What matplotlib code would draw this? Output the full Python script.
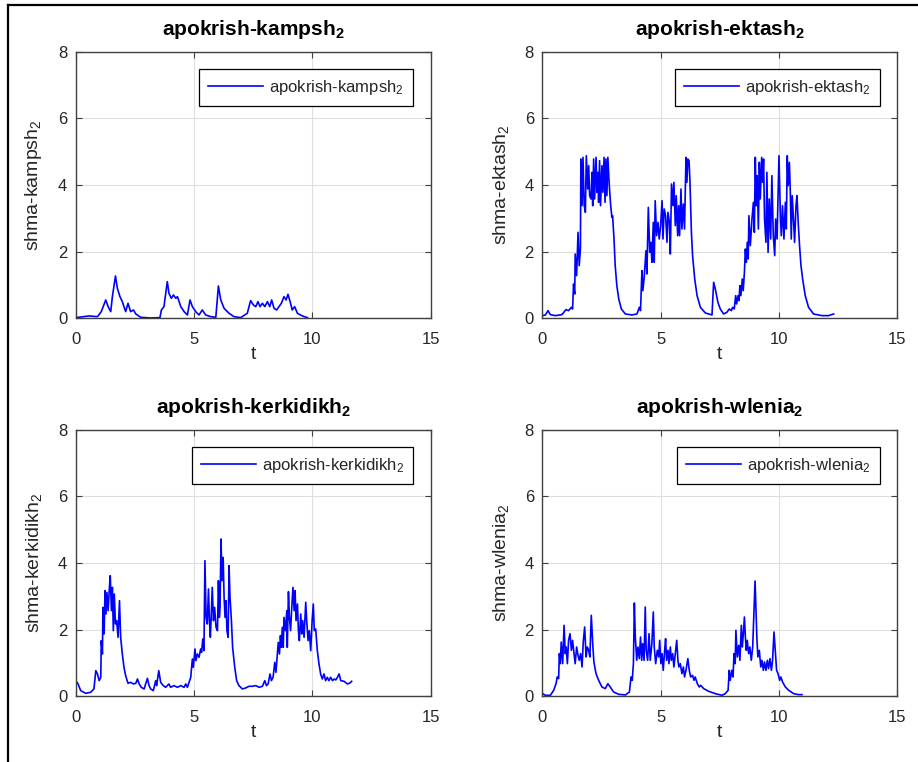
import matplotlib
matplotlib.use("Agg")
import matplotlib.pyplot as plt
from matplotlib.lines import Line2D

plt.rcParams['font.family'] = ['Liberation Sans', 'DejaVu Sans']
plt.rcParams['mathtext.fontset'] = 'custom'
plt.rcParams['mathtext.rm'] = 'Liberation Sans'
plt.rcParams['mathtext.it'] = 'Liberation Sans'
plt.rcParams['mathtext.bf'] = 'Liberation Sans:bold'

# ---- response of each member (time t, value) ----
t_kampsh = [0.00, 0.56, 0.92, 1.08, 1.27, 1.37, 1.48, 1.55, 1.68, 1.76, 1.87, 1.97,
            2.11, 2.21, 2.32, 2.44, 2.54, 2.75, 3.17, 3.56, 3.62, 3.73, 3.87, 3.94,
            4.04, 4.13, 4.23, 4.30, 4.44, 4.58, 4.72, 4.83, 4.93, 5.07, 5.21, 5.35,
            5.49, 5.70, 5.92, 6.03, 6.13, 6.27, 6.48, 6.69, 6.97, 7.25, 7.39, 7.51,
            7.61, 7.70, 7.79, 7.89, 7.99, 8.10, 8.20, 8.28, 8.38, 8.49, 8.59, 8.69,
            8.80, 8.89, 8.97, 9.06, 9.15, 9.25, 9.37, 9.58, 9.79]
y_kampsh = [0.02, 0.07, 0.05, 0.20, 0.55, 0.35, 0.20, 0.65, 1.27, 0.90, 0.65, 0.50,
            0.20, 0.45, 0.20, 0.25, 0.13, 0.03, 0.01, 0.02, 0.25, 0.35, 1.10, 0.75,
            0.60, 0.70, 0.60, 0.65, 0.35, 0.20, 0.10, 0.55, 0.35, 0.20, 0.10, 0.25,
            0.10, 0.05, 0.03, 0.97, 0.55, 0.30, 0.15, 0.05, 0.02, 0.15, 0.53, 0.40,
            0.35, 0.50, 0.35, 0.45, 0.35, 0.50, 0.35, 0.55, 0.30, 0.25, 0.35, 0.45,
            0.65, 0.55, 0.72, 0.50, 0.25, 0.35, 0.15, 0.07, 0.02]

t_ektash = [0.01, 0.13, 0.24, 0.34, 0.55, 0.83, 1.00, 1.11, 1.23, 1.28, 1.32, 1.37,
            1.39, 1.45, 1.51, 1.56, 1.61, 1.63, 1.68, 1.72, 1.77, 1.82, 1.86, 1.92,
            1.96, 2.00, 2.06, 2.10, 2.13, 2.17, 2.21, 2.27, 2.31, 2.35, 2.38, 2.42,
            2.46, 2.52, 2.56, 2.61, 2.65, 2.69, 2.73, 2.77, 2.83, 2.89, 2.94, 2.97,
            3.03, 3.08, 3.15, 3.23, 3.34, 3.51, 3.79, 4.00, 4.10, 4.15, 4.21, 4.25,
            4.31, 4.38, 4.42, 4.48, 4.54, 4.59, 4.63, 4.69, 4.73, 4.77, 4.83, 4.89,
            4.94, 5.00, 5.06, 5.10, 5.15, 5.21, 5.27, 5.31, 5.37, 5.41, 5.46, 5.52,
            5.56, 5.62, 5.66, 5.72, 5.76, 5.80, 5.86, 5.90, 5.96, 6.01, 6.07, 6.11,
            6.15, 6.20, 6.24, 6.30, 6.35, 6.44, 6.54, 6.68, 6.89, 7.17, 7.24, 7.31,
            7.42, 7.52, 7.66, 7.80, 7.90, 7.99, 8.04, 8.11, 8.17, 8.21, 8.27, 8.31,
            8.35, 8.39, 8.45, 8.49, 8.54, 8.58, 8.62, 8.66, 8.70, 8.73, 8.79, 8.86,
            8.92, 8.96, 9.00, 9.04, 9.08, 9.13, 9.17, 9.21, 9.27, 9.31, 9.35, 9.39,
            9.45, 9.49, 9.54, 9.59, 9.65, 9.70, 9.76, 9.82, 9.86, 9.92, 10.00, 10.06,
            10.10, 10.15, 10.21, 10.27, 10.31, 10.35, 10.39, 10.44, 10.48, 10.52, 10.56, 10.62,
            10.66, 10.72, 10.76, 10.82, 10.87, 10.93, 11.00, 11.11, 11.25, 11.46, 11.82, 12.10,
            12.31]
y_ektash = [0.08, 0.10, 0.23, 0.11, 0.08, 0.11, 0.26, 0.23, 0.33, 0.28, 1.03, 0.73,
            1.93, 1.28, 2.58, 1.58, 2.08, 4.78, 3.38, 4.83, 3.38, 3.18, 4.88, 3.88,
            4.58, 3.68, 3.58, 4.38, 3.38, 4.78, 3.58, 4.83, 3.78, 4.38, 3.48, 4.73,
            3.38, 4.58, 3.78, 4.83, 3.48, 4.78, 3.68, 4.83, 3.98, 3.38, 3.03, 3.08,
            2.38, 1.58, 0.98, 0.58, 0.28, 0.13, 0.10, 0.13, 0.33, 0.23, 1.43, 0.83,
            1.28, 2.03, 1.33, 3.33, 1.98, 2.28, 1.68, 2.88, 1.68, 3.53, 2.48, 2.88,
            2.38, 2.78, 3.53, 2.38, 3.28, 3.08, 2.28, 3.18, 2.88, 1.93, 4.03, 3.38,
            4.08, 2.78, 3.68, 2.48, 3.38, 2.48, 3.88, 2.68, 3.43, 2.68, 4.83, 4.08,
            4.78, 4.73, 4.08, 2.58, 1.88, 1.18, 0.68, 0.33, 0.16, 0.10, 1.08, 0.88,
            0.48, 0.28, 0.13, 0.18, 0.28, 0.23, 0.33, 0.28, 0.68, 0.43, 0.68, 0.53,
            0.98, 0.68, 1.18, 0.83, 1.38, 2.08, 1.68, 2.28, 1.78, 3.08, 2.18, 2.98,
            3.48, 2.58, 4.83, 3.38, 4.28, 2.68, 4.68, 3.58, 4.83, 4.08, 4.78, 2.98,
            2.28, 4.38, 1.98, 3.58, 2.38, 4.28, 2.48, 1.88, 2.98, 2.38, 4.88, 3.08,
            2.48, 3.38, 2.38, 3.48, 2.68, 4.88, 3.98, 4.68, 3.78, 2.38, 3.68, 2.88,
            2.28, 3.38, 3.68, 2.78, 2.18, 1.58, 1.18, 0.68, 0.33, 0.13, 0.08, 0.08,
            0.13]

t_kerkidikh = [0.00, 0.10, 0.21, 0.42, 0.63, 0.77, 0.85, 0.92, 0.99, 1.06, 1.08, 1.13,
               1.15, 1.20, 1.24, 1.28, 1.32, 1.37, 1.42, 1.46, 1.51, 1.55, 1.59, 1.63,
               1.68, 1.73, 1.79, 1.85, 1.90, 1.97, 2.04, 2.11, 2.21, 2.32, 2.44, 2.54,
               2.61, 2.68, 2.77, 2.89, 3.03, 3.10, 3.17, 3.28, 3.38, 3.42, 3.51, 3.59,
               3.70, 3.80, 3.94, 4.01, 4.15, 4.30, 4.44, 4.58, 4.65, 4.72, 4.79, 4.86,
               4.93, 4.97, 5.04, 5.08, 5.14, 5.21, 5.28, 5.32, 5.37, 5.42, 5.46, 5.51,
               5.56, 5.61, 5.65, 5.69, 5.73, 5.77, 5.82, 5.87, 5.93, 5.99, 6.03, 6.07,
               6.10, 6.14, 6.18, 6.23, 6.27, 6.31, 6.35, 6.39, 6.44, 6.48, 6.52, 6.58,
               6.63, 6.72, 6.80, 6.90, 7.04, 7.18, 7.32, 7.46, 7.61, 7.75, 7.89, 7.99,
               8.06, 8.13, 8.21, 8.27, 8.34, 8.41, 8.46, 8.52, 8.56, 8.61, 8.65, 8.69,
               8.73, 8.77, 8.80, 8.86, 8.92, 8.94, 8.99, 9.03, 9.08, 9.13, 9.18, 9.23,
               9.27, 9.31, 9.37, 9.41, 9.45, 9.51, 9.55, 9.59, 9.65, 9.72, 9.76, 9.82,
               9.87, 9.93, 9.99, 10.04, 10.08, 10.14, 10.21, 10.28, 10.35, 10.42, 10.49, 10.56,
               10.63, 10.70, 10.77, 10.85, 10.92, 10.99, 11.06, 11.13, 11.20, 11.34, 11.48, 11.59,
               11.66]
y_kerkidikh = [0.47, 0.37, 0.17, 0.09, 0.12, 0.22, 0.77, 0.67, 0.47, 0.57, 1.67, 1.27,
               2.67, 1.87, 3.17, 2.47, 3.12, 2.57, 3.22, 3.62, 2.57, 3.27, 1.97, 3.07,
               2.17, 2.27, 1.77, 2.87, 1.77, 1.27, 0.87, 0.62, 0.39, 0.42, 0.37, 0.39,
               0.52, 0.37, 0.27, 0.22, 0.54, 0.32, 0.22, 0.17, 0.47, 0.32, 0.77, 0.42,
               0.32, 0.27, 0.37, 0.27, 0.32, 0.27, 0.32, 0.27, 0.37, 0.27, 0.42, 0.57,
               1.12, 0.87, 1.42, 1.07, 1.27, 1.17, 1.42, 1.32, 1.72, 1.37, 4.07, 2.37,
               2.17, 3.22, 2.27, 1.77, 2.47, 3.27, 2.27, 2.67, 2.07, 1.97, 3.47, 2.37,
               2.67, 4.72, 3.47, 4.17, 2.97, 2.37, 2.87, 1.97, 1.77, 3.92, 2.97, 2.27,
               1.47, 0.87, 0.47, 0.32, 0.22, 0.25, 0.30, 0.30, 0.32, 0.27, 0.30, 0.47,
               0.32, 0.37, 0.67, 0.47, 0.57, 1.02, 0.72, 1.27, 1.62, 1.27, 1.82, 1.47,
               2.07, 1.47, 2.37, 1.97, 2.57, 1.47, 3.14, 2.37, 1.97, 2.67, 3.27, 2.57,
               3.17, 2.27, 2.77, 1.97, 1.67, 2.47, 1.87, 2.27, 1.77, 2.82, 2.27, 1.67,
               1.97, 1.37, 2.27, 2.77, 1.97, 2.02, 1.37, 0.97, 0.67, 0.52, 0.67, 0.47,
               0.57, 0.47, 0.57, 0.47, 0.52, 0.49, 0.57, 0.67, 0.47, 0.45, 0.37, 0.40,
               0.45]

t_wlenia = [0.01, 0.13, 0.34, 0.48, 0.58, 0.63, 0.69, 0.72, 0.76, 0.80, 0.86, 0.92,
            0.97, 1.01, 1.06, 1.11, 1.17, 1.23, 1.28, 1.34, 1.39, 1.45, 1.51, 1.56,
            1.62, 1.68, 1.73, 1.79, 1.85, 1.90, 1.96, 2.01, 2.07, 2.13, 2.18, 2.27,
            2.38, 2.52, 2.66, 2.77, 2.87, 3.01, 3.23, 3.51, 3.68, 3.75, 3.80, 3.85,
            3.89, 3.93, 3.99, 4.04, 4.10, 4.15, 4.20, 4.24, 4.30, 4.35, 4.39, 4.45,
            4.51, 4.56, 4.63, 4.69, 4.73, 4.79, 4.86, 4.92, 4.96, 5.01, 5.06, 5.11,
            5.17, 5.21, 5.25, 5.31, 5.35, 5.41, 5.45, 5.51, 5.56, 5.62, 5.68, 5.73,
            5.77, 5.83, 5.90, 5.96, 6.01, 6.07, 6.15, 6.21, 6.27, 6.35, 6.41, 6.46,
            6.55, 6.63, 6.69, 6.82, 7.03, 7.31, 7.59, 7.73, 7.85, 7.90, 7.94, 8.01,
            8.06, 8.10, 8.15, 8.18, 8.24, 8.30, 8.35, 8.41, 8.45, 8.49, 8.54, 8.58,
            8.62, 8.66, 8.72, 8.77, 8.83, 8.89, 8.93, 8.99, 9.03, 9.07, 9.11, 9.17,
            9.23, 9.28, 9.34, 9.39, 9.45, 9.51, 9.56, 9.62, 9.68, 9.73, 9.79, 9.85,
            9.90, 9.96, 10.03, 10.08, 10.15, 10.27, 10.41, 10.62, 10.83, 10.97]
y_wlenia = [0.08, 0.03, 0.03, 0.18, 0.38, 0.58, 0.53, 1.28, 0.98, 1.63, 0.98, 2.13,
            1.28, 1.48, 0.98, 1.68, 1.88, 1.38, 1.68, 1.28, 0.98, 1.48, 1.23, 1.08,
            1.28, 0.88, 1.63, 2.08, 1.18, 1.48, 1.38, 1.18, 2.43, 1.58, 1.03, 0.68,
            0.48, 0.28, 0.23, 0.38, 0.28, 0.13, 0.06, 0.04, 0.13, 0.58, 0.48, 0.98,
            2.80, 1.78, 1.08, 1.48, 1.13, 1.78, 1.08, 1.58, 1.08, 2.68, 1.38, 1.08,
            1.88, 1.08, 1.58, 2.53, 1.48, 0.98, 1.38, 1.18, 1.68, 0.98, 1.28, 0.78,
            1.38, 1.73, 1.08, 1.38, 0.98, 1.48, 1.08, 1.28, 0.88, 1.28, 1.68, 1.08,
            0.88, 0.98, 0.68, 0.88, 0.58, 0.78, 1.13, 0.78, 0.58, 0.63, 0.48, 0.58,
            0.38, 0.28, 0.33, 0.23, 0.15, 0.08, 0.03, 0.08, 0.18, 0.78, 0.48, 0.78,
            0.58, 1.28, 0.98, 1.98, 1.18, 1.53, 1.08, 2.13, 1.48, 1.83, 2.38, 1.78,
            1.38, 1.68, 1.28, 1.48, 1.08, 1.48, 2.28, 3.46, 2.58, 1.68, 1.18, 1.38,
            0.88, 1.08, 0.78, 1.03, 0.78, 1.08, 0.83, 1.13, 0.78, 1.08, 1.93, 1.28,
            0.78, 0.68, 0.48, 0.58, 0.43, 0.28, 0.18, 0.08, 0.05, 0.05]

names = ['kampsh', 'ektash', 'kerkidikh', 'wlenia']
series = [(t_kampsh, y_kampsh), (t_ektash, y_ektash),
          (t_kerkidikh, y_kerkidikh), (t_wlenia, y_wlenia)]
x_ticks = [0, 5, 10, 15]
y_ticks = [0, 2, 4, 6, 8]

W, H = 918, 762
fig = plt.figure(figsize=(W / 100, H / 100), dpi=100)
fig.patch.set_facecolor('white')

# axes boxes in pixels: left, top
boxes = [(75.7, 51.7), (542.3, 51.7), (75.7, 429.7), (542.3, 429.7)]
aw, ah = 355.0, 266.6

axis_col = '#404040'
text_col = '#262626'

for (left, top), name, (tt, yy) in zip(boxes, names, series):
    ax = fig.add_axes([left / W, 1 - (top + ah) / H, aw / W, ah / H])
    ax.plot(tt, yy, color='#0000ff', lw=1.2,
            label='apokrish-%s$_{2}$' % name)
    ax.set_xlim(0, 15)
    ax.set_ylim(0, 8)
    ax.set_xticks(x_ticks)
    ax.set_yticks(y_ticks)
    ax.grid(True, color='#dedede', lw=0.8)
    ax.set_axisbelow(True)
    for sp in ax.spines.values():
        sp.set_color(axis_col)
        sp.set_linewidth(1.0)
    ax.tick_params(direction='in', top=True, right=True, length=4,
                   width=0.8, color=axis_col, labelsize=12,
                   labelcolor=text_col, pad=6)
    ax.tick_params(axis='x', pad=10)
    ax.set_title(r'apokrish-%s$_\mathbf{2}$' % name, fontsize=15,
                 fontweight='bold', color='black', pad=12)
    ax.set_xlabel('t', fontsize=14, color=text_col, labelpad=-1)
    ax.set_ylabel('shma-%s$_{2}$' % name, fontsize=14, color=text_col,
                  labelpad=10)
    leg = ax.legend(loc='upper right', bbox_to_anchor=(0.950, 0.935),
                    borderaxespad=0, fontsize=12, fancybox=False,
                    framealpha=1, edgecolor='black', handlelength=3.3,
                    handletextpad=0.35, borderpad=0.55)
    leg.get_frame().set_linewidth(0.9)
    for txt in leg.get_texts():
        txt.set_color(text_col)

# outer frame of the figure window (top and left edges)
fig.add_artist(Line2D([7.5 / W, 7.5 / W], [0, 1 - 5 / H], color='black', lw=1.6))
fig.add_artist(Line2D([7.5 / W, 1], [1 - 5 / H, 1 - 5 / H], color='black', lw=1.6))

fig.savefig('out.png', dpi=100, facecolor='white')
